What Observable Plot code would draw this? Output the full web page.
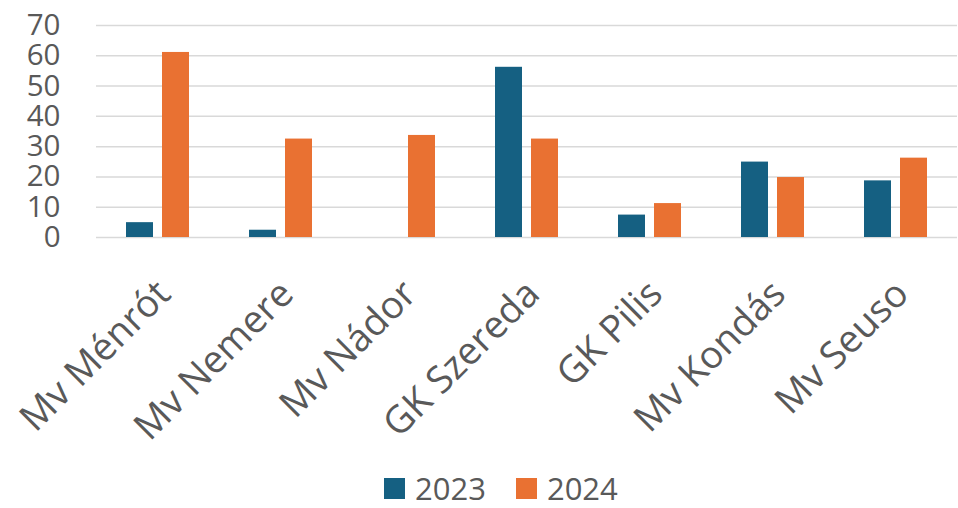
<!DOCTYPE html>
<html>
<head>
<meta charset="utf-8">
<script src="https://cdn.jsdelivr.net/npm/d3@7"></script>
<script src="https://cdn.jsdelivr.net/npm/@observablehq/plot@0.6"></script>
<style>
  html, body { margin: 0; padding: 0; background: #fff; }
  #chart { width: 958px; }
  .legend { display: flex; align-items: center; height: 40px; padding-left: 384px; font-family: "Open Sans", sans-serif; font-size: 31px; color: #595959; }
  .legend .item { display: flex; align-items: center; margin-right: 30px; }
  .legend .sw { width: 21px; height: 21px; margin-right: 10px; }
</style>
</head>
<body>
<div id="chart"></div>
<script>
const categories = ["Mv Ménrót", "Mv Nemere", "Mv Nádor", "GK Szereda", "GK Pilis", "Mv Kondás", "Mv Seuso"];
const years = ["2023", "2024"];
const values2023 = [4.9, 2.4, 0, 56.2, 7.4, 24.9, 18.7];
const values2024 = [61.1, 32.5, 33.7, 32.5, 11.2, 19.8, 26.2];
const yTicks = [0, 10, 20, 30, 40, 50, 60, 70];
const colors = ["#156082", "#E97132"];

const data = categories.flatMap((c, i) => [
  {cat: c, year: years[0], value: values2023[i]},
  {cat: c, year: years[1], value: values2024[i]}
]);

const chart = Plot.plot({
  width: 958,
  height: 468,
  marginLeft: 94,
  marginRight: 0,
  marginTop: 25,
  marginBottom: 231,
  style: {fontFamily: "Open Sans, sans-serif", color: "#595959", background: "#fff"},
  fx: {domain: categories, padding: 0, label: null},
  x: {domain: years, paddingInner: 0.243, paddingOuter: 0.789, axis: null},
  y: {domain: [0, 70], label: null},
  color: {domain: years, range: colors},
  marks: [
    Plot.gridY(yTicks, {stroke: "#D9D9D9", strokeOpacity: 1, strokeWidth: 1.5}),
    Plot.axisY(yTicks, {tickSize: 0, tickPadding: 36, fontSize: 29.5, label: null, fill: "#595959"}),
    Plot.axisFx({anchor: "bottom", tickRotate: -45, tickSize: 0, tickPadding: 50, dx: 6, fontSize: 38, label: null, fill: "#595959"}),
    Plot.barY(data, {fx: "cat", x: "year", y: "value", fill: "year"})
  ]
});
document.getElementById("chart").appendChild(chart);

const legend = document.createElement("div");
legend.className = "legend";
years.forEach((y, i) => {
  const item = document.createElement("div");
  item.className = "item";
  const sw = document.createElement("div");
  sw.className = "sw";
  sw.style.background = colors[i];
  const t = document.createElement("span");
  t.textContent = y;
  item.appendChild(sw);
  item.appendChild(t);
  legend.appendChild(item);
});
document.body.appendChild(legend);
</script>
</body>
</html>
